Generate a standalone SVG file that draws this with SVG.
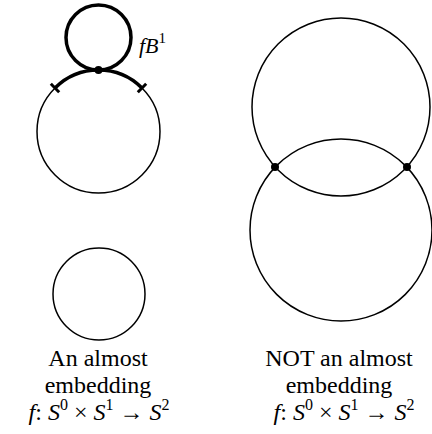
<svg xmlns="http://www.w3.org/2000/svg" width="432" height="434" viewBox="0 0 432 434">
<style>
.thin{fill:none;stroke:#000;stroke-width:1.5}
.thick{fill:none;stroke:#000;stroke-width:3.5}
.tick{fill:none;stroke:#000;stroke-width:3}
.dot{fill:#000}
</style>
<rect width="432" height="434" fill="#fff"/>
<g id="left-upper">
<circle class="thin" cx="98.5" cy="131.5" r="61.5"/>
<path class="thick" d="M55.01,88.01 A61.5,61.5 0 0 1 141.99,88.01"/>
<line class="tick" x1="50.8" y1="83.8" x2="59.2" y2="92.2"/>
<line class="tick" x1="146.2" y1="83.8" x2="137.8" y2="92.2"/>
<circle class="thick" cx="98.5" cy="37.5" r="32.5"/>
<circle class="dot" cx="98.5" cy="70" r="4"/>
<text font-family="Liberation Serif, serif" font-style="italic" font-size="22" x="139" y="53">fB<tspan dy="-10" font-style="normal" font-size="15">1</tspan></text>
</g>
<g id="left-lower">
<circle class="thin" cx="99" cy="294" r="46"/>
</g>
<g id="right">
<circle class="thin" cx="341" cy="107" r="89"/>
<circle class="thin" cx="341" cy="230" r="91"/>
<circle class="dot" cx="275" cy="167" r="4"/>
<circle class="dot" cx="407" cy="167" r="4"/>
</g>
<g id="left-label" font-family="Liberation Serif, serif" font-size="24" text-anchor="middle">
<text x="98" y="366">An almost</text>
<text x="98" y="393">embedding</text>
<text x="99" y="420"><tspan font-style="italic">f</tspan>: <tspan font-style="italic">S</tspan><tspan font-size="16" dy="-10">0</tspan><tspan dy="10"> × </tspan><tspan font-style="italic">S</tspan><tspan font-size="16" dy="-10">1</tspan><tspan dy="10"> → </tspan><tspan font-style="italic">S</tspan><tspan font-size="16" dy="-10">2</tspan></text>
</g>
<g id="right-label" font-family="Liberation Serif, serif" font-size="24" text-anchor="middle">
<text x="339" y="366">NOT an almost</text>
<text x="339" y="393">embedding</text>
<text x="344" y="420"><tspan font-style="italic">f</tspan>: <tspan font-style="italic">S</tspan><tspan font-size="16" dy="-10">0</tspan><tspan dy="10"> × </tspan><tspan font-style="italic">S</tspan><tspan font-size="16" dy="-10">1</tspan><tspan dy="10"> → </tspan><tspan font-style="italic">S</tspan><tspan font-size="16" dy="-10">2</tspan></text>
</g>
</svg>
